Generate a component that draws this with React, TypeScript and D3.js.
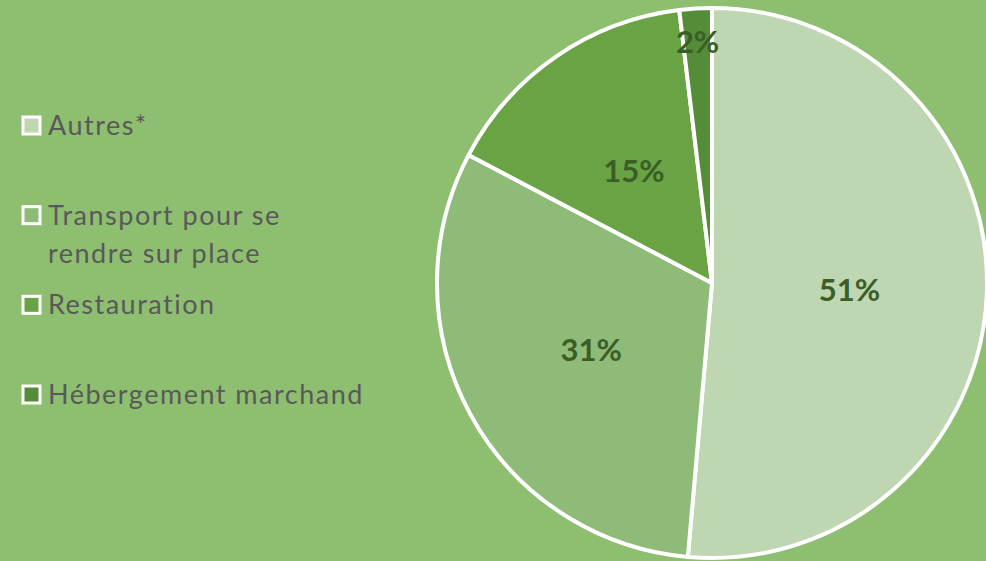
import React, { useEffect, useRef } from "react";
import * as d3 from "d3";

const categories = ["Autres*", "Transport pour se rendre sur place", "Restauration", "Hébergement marchand"];
const values = [51.4, 31.3, 15.4, 1.9];
const legendLines = [["Autres*"], ["Transport pour se", "rendre sur place"], ["Restauration"], ["Hébergement marchand"]];
const colors = ["#bed6b2", "#8fbb79", "#69a344", "#548c37"];

const W = 986;
const H = 561;

const App = () => {
  const svgRef = useRef<SVGSVGElement>(null);

  useEffect(() => {
    const svg = d3.select(svgRef.current);
    svg.selectAll("*").remove();

    svg.append("rect").attr("width", W).attr("height", H).attr("fill", "#8ebe70");

    // pie
    const cx = 712;
    const cy = 283;
    const R = 275;
    const pie = d3.pie<number>().sort(null).value((d) => d);
    const arcs = pie(values);
    const arc = d3.arc<d3.PieArcDatum<number>>().innerRadius(0).outerRadius(R);

    const g = svg.append("g").attr("transform", `translate(${cx},${cy})`);
    g.selectAll("path")
      .data(arcs)
      .join("path")
      .attr("d", arc)
      .attr("fill", (d, i) => colors[i])
      .attr("stroke", "white")
      .attr("stroke-width", 4)
      .attr("stroke-linejoin", "round");

    g.selectAll("text")
      .data(arcs)
      .join("text")
      .attr("transform", (d) => {
        const r = d.data < 5 ? R * 0.88 : R * 0.5;
        const a = (d.startAngle + d.endAngle) / 2;
        return `translate(${r * Math.sin(a)},${-r * Math.cos(a)})`;
      })
      .attr("text-anchor", "middle")
      .attr("dominant-baseline", "central")
      .attr("font-family", "Lato, 'Open Sans', sans-serif")
      .attr("font-weight", "bold")
      .attr("font-size", 31)
      .attr("fill", "#3b5e27")
      .text((d) => `${Math.round(d.data)}%`);

    // legend
    const legendY = d3.scalePoint<string>().domain(categories).range([126, 395]);
    const legend = svg.append("g");
    categories.forEach((c, i) => {
      const y = legendY(c)!;
      legend
        .append("rect")
        .attr("x", 23)
        .attr("y", y - 9)
        .attr("width", 17)
        .attr("height", 17)
        .attr("fill", colors[i])
        .attr("stroke", "white")
        .attr("stroke-width", 3);
      const t = legend
        .append("text")
        .attr("x", 48)
        .attr("y", y + 9)
        .attr("font-family", "Lato, 'Open Sans', sans-serif")
        .attr("font-size", 27)
        .attr("letter-spacing", 1.5)
        .attr("fill", "#595959");
      legendLines[i].forEach((line, j) => {
        t.append("tspan").attr("x", 48).attr("dy", j === 0 ? 0 : 38).text(line);
      });
    });
  }, []);

  return <svg ref={svgRef} width={W} height={H} style={{ display: "block", position: "absolute", left: 0, top: 0 }} />;
};

export default App;
